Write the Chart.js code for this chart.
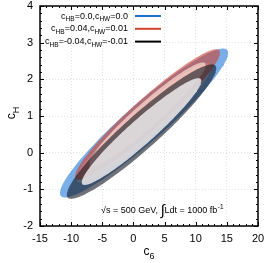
<!DOCTYPE html>
<html>
<head>
<meta charset="utf-8">
<script src="https://cdn.jsdelivr.net/npm/chart.js@4.4.1/dist/chart.umd.min.js"></script>
<style>
  html, body { margin: 0; padding: 0; background: #fff; }
  #wrap { width: 270px; height: 263px; }
</style>
</head>
<body>
<div id="wrap"><canvas id="myChart"></canvas></div>
<script>
// confidence contours in the (c6, cH) plane, one per fill:
// leftmost point, rightmost point and half the vertical chord through the centre
const contourNames = ['blue outer', 'blue inner', 'red outer', 'red inner', 'black outer', 'black inner'];
const leftC6  = [-11.8, -9.1, -9.4, -7.1, -10.7, -8.3];
const leftCH  = [-1.10, -0.72, -0.65, -0.31, -1.15, -0.81];
const rightC6 = [15.2, 12.5, 13.9, 11.6, 13.3, 10.9];
const rightCH = [2.72, 2.34, 2.73, 2.39, 2.30, 1.96];
const halfCH  = [0.69, 0.54, 0.56, 0.44, 0.62, 0.45];

const legendLabels = ['c{HB}=0.0,c{HW}=0.0', 'c{HB}=0.04,c{HW}=0.01', 'c{HB}=-0.04,c{HW}=-0.01'];
const xTicks = [-15, -10, -5, 0, 5, 10, 15, 20];
const yTicks = [-2, -1, 0, 1, 2, 3, 4];

const fillColors = [
  'rgba(50,130,220,0.65)', 'rgba(210,222,240,0.7)',
  'rgba(205,65,45,0.6)', 'rgba(250,214,204,0.75)',
  'rgba(15,20,30,0.6)', 'rgba(238,235,237,0.85)'
];
const legendColors = ['#1f6fd0', '#d4432c', '#000'];
const FONT = '"Liberation Sans", Arial, sans-serif';

function ellipsePoints(i) {
  const cx = (leftC6[i] + rightC6[i]) / 2, cy = (leftCH[i] + rightCH[i]) / 2;
  const dx = (rightC6[i] - leftC6[i]) / 2, dy = (rightCH[i] - leftCH[i]) / 2;
  const pts = [];
  for (let k = 0; k <= 180; k++) {
    const t = k / 180 * 2 * Math.PI;
    pts.push({ x: cx + dx * Math.cos(t), y: cy + dy * Math.cos(t) + halfCH[i] * Math.sin(t) });
  }
  return pts;
}

const datasets = contourNames.map((name, i) => ({
  label: name,
  data: ellipsePoints(i),
  showLine: true,
  fill: 'shape',
  backgroundColor: fillColors[i],
  borderWidth: 0,
  pointRadius: 0,
  tension: 0,
  order: contourNames.length - i
}));

// text with {subscripts}
function drawRich(ctx, text, x, y, size, subSize, align) {
  const parts = [];
  text.split(/(\{[^}]*\})/).forEach(p => {
    if (!p) return;
    if (p[0] === '{') parts.push([p.slice(1, -1), true]); else parts.push([p, false]);
  });
  let w = 0;
  parts.forEach(([t, sub]) => { ctx.font = (sub ? subSize : size) + 'px ' + FONT; w += ctx.measureText(t).width; });
  let cx = align === 'right' ? x - w : align === 'center' ? x - w / 2 : x;
  ctx.textAlign = 'left';
  ctx.textBaseline = 'alphabetic';
  parts.forEach(([t, sub]) => {
    ctx.font = (sub ? subSize : size) + 'px ' + FONT;
    ctx.fillText(t, cx, sub ? y + size * 0.3 : y);
    cx += ctx.measureText(t).width;
  });
  return w;
}

const decorations = {
  id: 'decorations',
  afterDatasetsDraw(chart) {
    const ctx = chart.ctx, a = chart.chartArea;
    const xs = chart.scales.x, ys = chart.scales.y;
    ctx.save();
    ctx.strokeStyle = '#000';
    ctx.lineWidth = 1;
    // inside ticks on all four sides
    for (let v = -15; v <= 20.001; v += 1) {
      const px = Math.round(xs.getPixelForValue(v)) + 0.5;
      const len = (Math.round(v) % 5 === 0) ? 4 : 2;
      ctx.beginPath();
      ctx.moveTo(px, a.bottom); ctx.lineTo(px, a.bottom - len);
      ctx.moveTo(px, a.top); ctx.lineTo(px, a.top + len);
      ctx.stroke();
    }
    for (let k = 0; k <= 30; k++) {
      const v = -2 + k * 0.2;
      const py = Math.round(ys.getPixelForValue(v)) + 0.5;
      const len = (k % 5 === 0) ? 4 : 2;
      ctx.beginPath();
      ctx.moveTo(a.left, py); ctx.lineTo(a.left + len, py);
      ctx.moveTo(a.right, py); ctx.lineTo(a.right - len, py);
      ctx.stroke();
    }
    ctx.lineWidth = 1.5;
    ctx.strokeRect(a.left, a.top, a.right - a.left, a.bottom - a.top);

    // legend
    ctx.fillStyle = '#000';
    legendLabels.forEach((lab, i) => {
      const y = 18.5 + i * 12.8;
      drawRich(ctx, lab, 128, y, 9, 6.5, 'right');
      ctx.strokeStyle = legendColors[i];
      ctx.lineWidth = 2;
      ctx.beginPath();
      ctx.moveTo(135, y - 2.5); ctx.lineTo(161, y - 2.5);
      ctx.stroke();
    });

    // energy / luminosity note
    ctx.fillStyle = '#000';
    ctx.textBaseline = 'alphabetic';
    ctx.textAlign = 'left';
    let x = 101;
    const yb = 213;
    ctx.font = '9px ' + FONT;
    ctx.fillText('\u221As = 500 GeV, ', x, yb);
    x += ctx.measureText('\u221As = 500 GeV, ').width;
    ctx.font = '15px ' + FONT;
    ctx.fillText('\u222B', x, yb + 2);
    x += ctx.measureText('\u222B').width;
    ctx.font = '9px ' + FONT;
    ctx.fillText('Ldt = 1000 fb', x, yb);
    x += ctx.measureText('Ldt = 1000 fb').width;
    ctx.font = '6.5px ' + FONT;
    ctx.fillText('-1', x + 0.5, yb - 4);

    // axis titles
    drawRich(ctx, 'c{6}', (a.left + a.right) / 2, 255, 12, 9, 'center');
    ctx.save();
    ctx.translate(15, (a.top + a.bottom) / 2 - 3);
    ctx.rotate(-Math.PI / 2);
    drawRich(ctx, 'c{H}', 0, 0, 12, 9, 'center');
    ctx.restore();
    ctx.restore();
  }
};

const tickFont = { family: FONT, size: 11 };

const config = {
  type: 'scatter',
  data: { datasets: datasets },
  options: {
    responsive: true,
    maintainAspectRatio: false,
    animation: false,
    layout: { padding: { top: 6, right: 12, left: 0, bottom: 0 } },
    plugins: { legend: { display: false }, tooltip: { enabled: false } },
    scales: {
      x: {
        type: 'linear', min: -15, max: 20,
        afterBuildTicks: s => { s.ticks = xTicks.map(v => ({ value: v })); },
        afterFit: s => { s.height = 37; s.paddingLeft = 0; s.paddingRight = 0; },
        grid: { color: '#d9d9d9', drawTicks: false, lineWidth: 0.8 },
        border: { display: false, dash: [1, 2] },
        ticks: { color: '#000', font: tickFont, padding: 6, autoSkip: false, maxRotation: 0 }
      },
      y: {
        type: 'linear', min: -2, max: 4,
        afterBuildTicks: s => { s.ticks = yTicks.map(v => ({ value: v })); },
        afterFit: s => { s.width = 40; s.paddingTop = 0; s.paddingBottom = 0; },
        grid: { color: '#d9d9d9', drawTicks: false, lineWidth: 0.8 },
        border: { display: false, dash: [1, 2] },
        ticks: { color: '#000', font: tickFont, padding: 7, autoSkip: false }
      }
    }
  },
  plugins: [decorations]
};

const myChart = new Chart(document.getElementById('myChart'), config);
</script>
</body>
</html>
